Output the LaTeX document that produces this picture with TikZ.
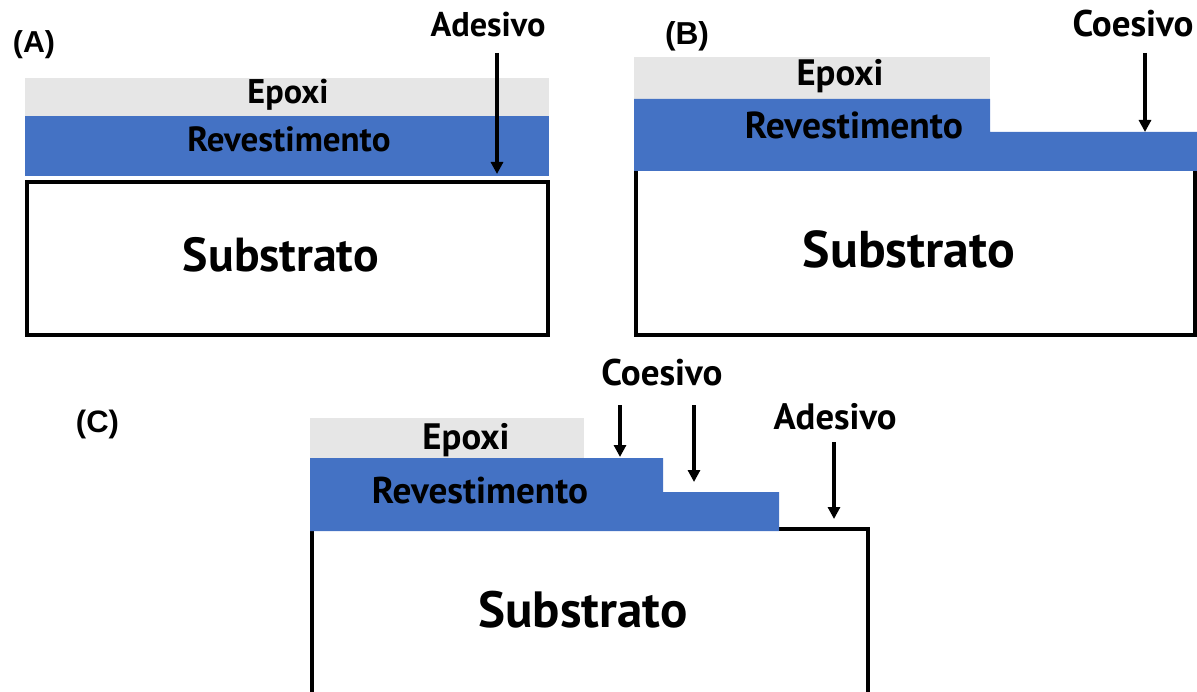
\documentclass[tikz,border=0pt]{standalone}
\usepackage{fontspec}
\usepackage{graphicx}
\setmainfont{PT Sans}
\newfontfamily\panelfont{Liberation Sans}
\usetikzlibrary{arrows.meta}
\definecolor{epoxygray}{RGB}{230,230,230}
\definecolor{coatblue}{RGB}{68,114,196}
% scale a bold label to a given width (in bp)
\newcommand{\fitw}[2]{\resizebox{#1bp}{!}{\bfseries #2}}
\newcommand{\fitp}[2]{\resizebox{#1bp}{!}{\panelfont\bfseries #2}}

\begin{document}
\begin{tikzpicture}[x=1bp,y=-1bp,
  txt/.style={anchor=base,inner sep=0pt},
  epoxy/.style={fill=epoxygray},
  coat/.style={fill=coatblue},
  substrate/.style={draw=black,line width=4bp},
  fracture/.style={line width=3.5bp,-{Triangle[length=12bp,width=12bp]}}]
\useasboundingbox (0,0) rectangle (1197,692);
\clip (0,0) rectangle (1197,692);

% ---------------- panel (A): adhesive failure ----------------
\node[txt] (labA) at (34,53) {\fitp{42}{(A)}};
\draw[substrate] (27,182) rectangle (548,335);
\fill[epoxy] (25,78) rectangle (549,116);
\fill[coat] (25,116) rectangle (549,176);
\node[txt] (epoxA) at (288,104) {\fitw{81}{Epoxi}};
\node[txt] (revA) at (289,152) {\fitw{203}{Revestimento}};
\node[txt] (subA) at (281,272) {\fitw{196}{Substrato}};
\node[txt] (adA) at (488,37) {\fitw{115}{Adesivo}};
\coordinate (adAs) at (497,53);
\coordinate (adAe) at (497,174);
\draw[fracture] (adAs) -- (adAe);

% ---------------- panel (B): cohesive failure ----------------
\node[txt] (labB) at (687,45) {\fitp{44}{(B)}};
\draw[substrate] (636,171) -- (636,335) -- (1195,335) -- (1195,171);
\fill[epoxy] (634,57) rectangle (990,99);
\fill[coat] (634,99) -- (990,99) -- (990,132) -- (1197,132) -- (1197,171) -- (634,171) -- cycle;
\node[txt] (epoxB) at (840,86) {\fitw{87}{Epoxi}};
\node[txt] (revB) at (854,139) {\fitw{218}{Revestimento}};
\node[txt] (subB) at (909,267) {\fitw{212}{Substrato}};
\node[txt] (coB) at (1133,37) {\fitw{121}{Coesivo}};
\coordinate (coBs) at (1145,53);
\coordinate (coBe) at (1145,132);
\draw[fracture] (coBs) -- (coBe);

% ---------------- panel (C): mixed failure ----------------
\node[txt] (labC) at (97.5,432) {\fitp{43}{(C)}};
\draw[substrate] (311.5,700) -- (311.5,529) -- (868,529) -- (868,700);
\fill[epoxy] (310,418) rectangle (584,458);
\fill[coat] (310,458) -- (663,458) -- (663,492) -- (779,492) -- (779,531) -- (310,531) -- cycle;
\node[txt] (epoxC) at (466,449) {\fitw{87}{Epoxi}};
\node[txt] (revC) at (480,503) {\fitw{216}{Revestimento}};
\node[txt] (subC) at (583,627) {\fitw{209}{Substrato}};
\node[txt] (coC) at (662,385) {\fitw{121}{Coesivo}};
\node[txt] (adC) at (835,429) {\fitw{123}{Adesivo}};
\coordinate (coC1s) at (620,405);
\coordinate (coC1e) at (620,457);
\coordinate (coC2s) at (694,405);
\coordinate (coC2e) at (694,482);
\coordinate (adCs) at (834,442);
\coordinate (adCe) at (834,519);
\draw[fracture] (coC1s) -- (coC1e);
\draw[fracture] (coC2s) -- (coC2e);
\draw[fracture] (adCs) -- (adCe);
\end{tikzpicture}
\end{document}
